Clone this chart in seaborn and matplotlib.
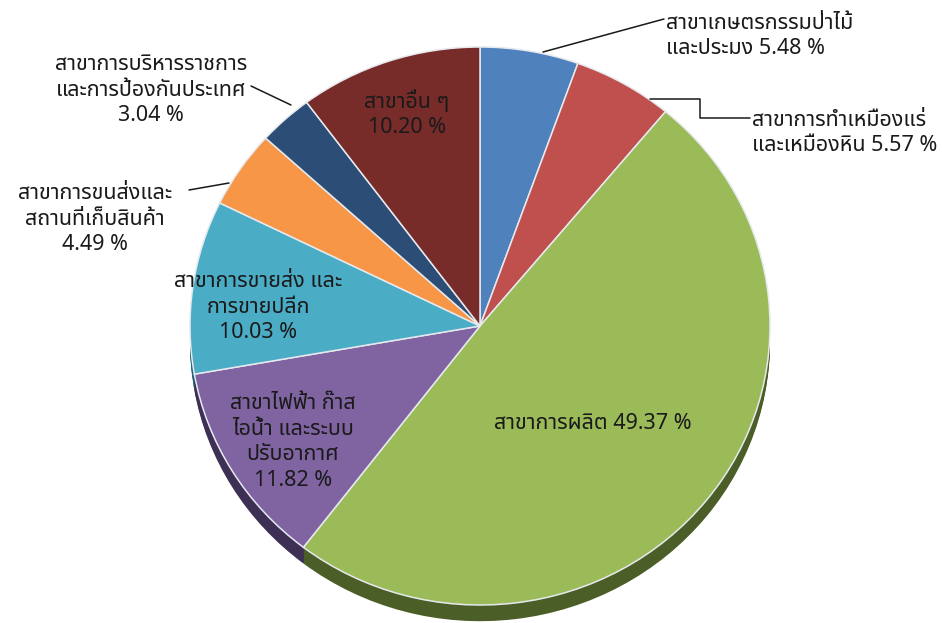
import numpy as np
import pandas as pd
import matplotlib
matplotlib.use("Agg")
import matplotlib.pyplot as plt
import seaborn as sns
from matplotlib import font_manager
from matplotlib.ft2font import FT2Font

# data: share of each branch (%), clockwise from 12 o'clock
sectors = ["เกษตรกรรมป่าไม้และประมง", "การทำเหมืองแร่และเหมืองหิน", "การผลิต",
           "ไฟฟ้า ก๊าส ไอน้ำ และระบบปรับอากาศ", "การขายส่ง และการขายปลีก",
           "การขนส่งและสถานที่เก็บสินค้า", "การบริหารราชการและการป้องกันประเทศ", "อื่น ๆ"]
shares = [5.48, 5.57, 49.37, 11.82, 10.03, 4.49, 3.04, 10.20]
label_lines = [
    ["สาขาเกษตรกรรมป่าไม้", "และประมง {:.2f} %"],
    ["สาขาการทำเหมืองแร่", "และเหมืองหิน {:.2f} %"],
    ["สาขาการผลิต {:.2f} %"],
    ["สาขาไฟฟ้า ก๊าส", "ไอน้ำ และระบบ", "ปรับอากาศ", "{:.2f} %"],
    ["สาขาการขายส่ง และ", "การขายปลีก", "{:.2f} %"],
    ["สาขาการขนส่งและ", "สถานที่เก็บสินค้า", "{:.2f} %"],
    ["สาขาการบริหารราชการ", "และการป้องกันประเทศ", "{:.2f} %"],
    ["สาขาอื่น ๆ", "{:.2f} %"],
]
top_colors = ["#4F81BD", "#C0504D", "#9BBB59", "#8064A2", "#4BACC6", "#F79646", "#2C4D75", "#772C2A"]
side_colors = ["#2A4A70", "#6E2A28", "#4C5E27", "#3E2F55", "#25687A", "#9A5420", "#18304D", "#4A1715"]

df = pd.DataFrame({"sector": sectors, "share": shares})


def thai_font():
    preferred = ["Tahoma", "Noto Sans Thai", "Noto Sans Thai UI", "Leelawadee UI", "Loma", "Garuda",
                 "Sarabun", "Waree", "Umpush", "Kinnari", "Norasi", "FreeSans", "Arial Unicode MS"]
    found = {}
    for f in font_manager.fontManager.ttflist:
        try:
            cmap = FT2Font(f.fname).get_charmap()
        except Exception:
            continue
        if 0x0E2A in cmap:
            found.setdefault(f.name, f.fname)
    for name in preferred:
        if name in found:
            return name
    if found:
        return sorted(found)[0]
    return "DejaVu Sans"


sns.set_theme(style="white")
font_name = thai_font()
plt.rcParams["font.family"] = [font_name, "DejaVu Sans"]

W, H = 942, 623
CX, CY, RX, RY = 480, 326, 290, 279   # pie centre and radii in pixels
DEPTH = 0.058                          # thickness of the 3d side
LINE_H = 25.5                          # label line height in pixels


def px(x, y):
    return (x - CX) / RX, (CY - y) / RY


fig = plt.figure(figsize=(W / 100, H / 100), dpi=100)
ax = fig.add_axes([0, 0, 1, 1])

# side wall of the 3d pie
n_layers = 12
for k in range(n_layers, 0, -1):
    ax.pie(df["share"], colors=side_colors, startangle=90, counterclock=False,
           center=(0, -DEPTH * k / n_layers), wedgeprops=dict(linewidth=0))

wedges, _ = ax.pie(df["share"], colors=top_colors, startangle=90, counterclock=False,
                   wedgeprops=dict(linewidth=1.1, edgecolor="#E6E9EE"))

ax.set_aspect("auto")
x0, y0 = px(0, H)
x1, y1 = px(W, 0)
ax.set_xlim(x0, x1)
ax.set_ylim(y0, y1)
ax.axis("off")


def label(i, x, yc, ha="center"):
    # x, yc in pixels: anchor x and vertical centre of the whole block
    lines = [s.format(df["share"][i]) for s in label_lines[i]]
    n = len(lines)
    for j, s in enumerate(lines):
        yb = yc + (j - (n - 1) / 2) * LINE_H + 7.5
        ax.text(*px(x, yb), s, ha=ha, va="baseline", fontsize=15.5, color="#1A1A1A")


def wedge_px(i, r):
    w = wedges[i]
    a = np.deg2rad((w.theta1 + w.theta2) / 2)
    return CX + r * np.cos(a) * RX, CY - r * np.sin(a) * RY


gx, gy = wedge_px(2, 0.5)
label(2, gx, gy + 8)
label(3, 293, 440)
label(4, 258, 305)
label(7, 407, 113)

line_kw = dict(color="#1A1A1A", linewidth=1.1)

# agriculture
ax.plot(*zip(px(543, 52), px(664, 19)), **line_kw)
label(0, 666, 34, ha="left")
# mining
ax.plot(*zip(px(650, 99), px(700, 99), px(700, 118), px(750, 118)), **line_kw)
label(1, 752, 131, ha="left")
# transport
ax.plot(*zip(px(189, 190), px(229, 183)), **line_kw)
label(5, 95, 217)
# public administration
ax.plot(*zip(px(251, 86), px(291, 105)), **line_kw)
label(6, 151, 88)

fig.savefig("out.png", dpi=100)
